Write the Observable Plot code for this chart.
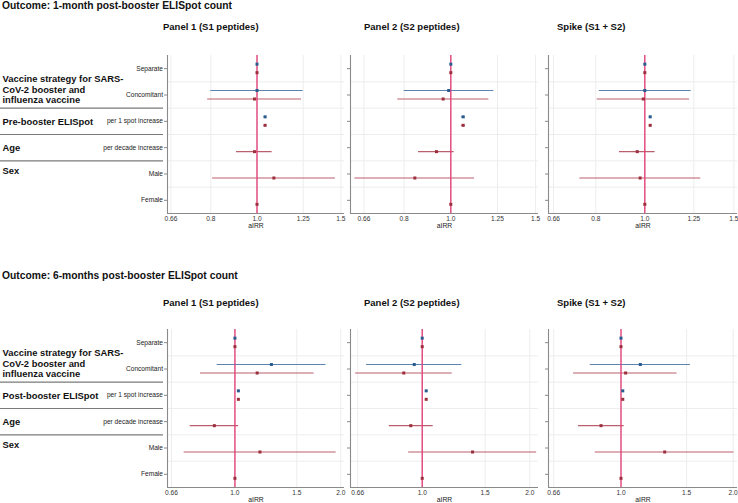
<!DOCTYPE html>
<html>
<head>
<meta charset="utf-8">
<script src="https://cdn.jsdelivr.net/npm/d3@7"></script>
<script src="https://cdn.jsdelivr.net/npm/@observablehq/plot@0.6"></script>
<style>
  body { margin: 0; background: #fff; }
  #root { position: relative; width: 738px; height: 503px; overflow: hidden; font-family: "Liberation Sans", Arial, Helvetica, sans-serif; }
  .t { position: absolute; font-weight: bold; font-size: 9.5px; line-height: 10px; color: #111; white-space: nowrap; }
  .t.big { font-size: 10.3px; line-height: 11px; }
  .p { position: absolute; }
</style>
</head>
<body>
<div id="root"></div>
<script>
// ---------- categories & labels ----------
const categories = ["Separate", "Concomitant", "per 1 spot increase", "per decade increase", "Male", "Female"];
const groupLabelsTop = ["Vaccine strategy for SARS-\nCoV-2 booster and\ninfluenza vaccine", "Pre-booster ELISpot", "Age", "Sex"];
const groupLabelsBottom = ["Vaccine strategy for SARS-\nCoV-2 booster and\ninfluenza vaccine", "Post-booster ELISpot", "Age", "Sex"];
const groupRows = [0.78, 2, 3, 3.87];
const separatorRows = [1.5, 2.5, 3.5];
const panelTitles = ["Panel 1 (S1 peptides)", "Panel 2 (S2 peptides)", "Spike (S1 + S2)"];
const sectionTitles = ["Outcome: 1-month post-booster ELISpot count", "Outcome: 6-months post-booster ELISpot count"];
const xTicksTop = [0.66, 0.8, 1.0, 1.25, 1.5];
const xTickLabelsTop = ["0.66", "0.8", "1.0", "1.25", "1.5"];
const xTicksBottom = [0.66, 1.0, 1.5, 2.0];
const xTickLabelsBottom = ["0.66", "1.0", "1.5", "2.0"];
const xDomainsTop = [[0.649, 1.526], [0.619, 1.521], [0.645, 1.525]];
const xDomainsBottom = [[0.643, 2.05], [0.630, 2.115], [0.639, 2.054]];

// ---------- 1-month outcome (aIRR, lower CI, upper CI) ----------
const m1p1BlueEst = [1, 1.00, 1.040, null, null, null];
const m1p1BlueLo  = [null, 0.80, 1.034, null, null, null];
const m1p1BlueHi  = [null, 1.25, 1.047, null, null, null];
const m1p1RedEst  = [1, 0.988, 1.040, 0.988, 1.085, 1];
const m1p1RedLo   = [null, 0.788, 1.034, 0.906, 0.807, null];
const m1p1RedHi   = [null, 1.24, 1.047, 1.076, 1.46, null];

const m1p2BlueEst = [1, 0.99, 1.061, null, null, null];
const m1p2BlueLo  = [null, 0.80, 1.052, null, null, null];
const m1p2BlueHi  = [null, 1.228, 1.070, null, null, null];
const m1p2RedEst  = [1, 0.964, 1.061, 0.934, 0.842, 1];
const m1p2RedLo   = [null, 0.776, 1.052, 0.857, 0.632, null];
const m1p2RedHi   = [null, 1.20, 1.070, 1.016, 1.12, null];

const m1p3BlueEst = [1, 1.00, 1.025, null, null, null];
const m1p3BlueLo  = [null, 0.813, 1.020, null, null, null];
const m1p3BlueHi  = [null, 1.235, 1.030, null, null, null];
const m1p3RedEst  = [1, 0.993, 1.025, 0.966, 0.979, 1];
const m1p3RedLo   = [null, 0.805, 1.020, 0.891, 0.744, null];
const m1p3RedHi   = [null, 1.226, 1.030, 1.048, 1.29, null];

// ---------- 6-months outcome ----------
const m6p1BlueEst = [1, 1.27, 1.023, null, null, null];
const m6p1BlueLo  = [null, 0.89, 1.019, null, null, null];
const m6p1BlueHi  = [null, 1.815, 1.027, null, null, null];
const m6p1RedEst  = [1, 1.157, 1.023, 0.874, 1.178, 1];
const m6p1RedLo   = [null, 0.798, 1.019, 0.746, 0.717, null];
const m6p1RedHi   = [null, 1.68, 1.027, 1.025, 1.94, null];

const m6p2BlueEst = [1, 0.95, 1.026, null, null, null];
const m6p2BlueLo  = [null, 0.699, 1.022, null, null, null];
const m6p2BlueHi  = [null, 1.29, 1.030, null, null, null];
const m6p2RedEst  = [1, 0.888, 1.026, 0.929, 1.383, 1];
const m6p2RedLo   = [null, 0.651, 1.022, 0.809, 0.916, null];
const m6p2RedHi   = [null, 1.213, 1.030, 1.073, 2.09, null];

const m6p3BlueEst = [1, 1.127, 1.011, null, null, null];
const m6p3BlueLo  = [null, 0.827, 1.008, null, null, null];
const m6p3BlueHi  = [null, 1.535, 1.014, null, null, null];
const m6p3RedEst  = [1, 1.029, 1.011, 0.884, 1.31, 1];
const m6p3RedLo   = [null, 0.746, 1.008, 0.769, 0.853, null];
const m6p3RedHi   = [null, 1.414, 1.014, 1.02, 2.01, null];

// ---------- build rows ----------
function rows(est, lo, hi) {
  const out = [];
  est.forEach((e, i) => { if (e != null) out.push({i, est: e, lo: lo[i], hi: hi[i]}); });
  return out;
}
const sections = [
  {
    title: sectionTitles[0], titleTop: 0, panelTitleTop: 22, svgTop: 45,
    groups: groupLabelsTop, xTicks: xTicksTop, xLabels: xTickLabelsTop, domains: xDomainsTop,
    panels: [
      [rows(m1p1BlueEst, m1p1BlueLo, m1p1BlueHi), rows(m1p1RedEst, m1p1RedLo, m1p1RedHi)],
      [rows(m1p2BlueEst, m1p2BlueLo, m1p2BlueHi), rows(m1p2RedEst, m1p2RedLo, m1p2RedHi)],
      [rows(m1p3BlueEst, m1p3BlueLo, m1p3BlueHi), rows(m1p3RedEst, m1p3RedLo, m1p3RedHi)]
    ]
  },
  {
    title: sectionTitles[1], titleTop: 270, panelTitleTop: 297.5, svgTop: 319,
    groups: groupLabelsBottom, xTicks: xTicksBottom, xLabels: xTickLabelsBottom, domains: xDomainsBottom,
    panels: [
      [rows(m6p1BlueEst, m6p1BlueLo, m6p1BlueHi), rows(m6p1RedEst, m6p1RedLo, m6p1RedHi)],
      [rows(m6p2BlueEst, m6p2BlueLo, m6p2BlueHi), rows(m6p2RedEst, m6p2RedLo, m6p2RedHi)],
      [rows(m6p3BlueEst, m6p3BlueLo, m6p3BlueHi), rows(m6p3RedEst, m6p3RedLo, m6p3RedHi)]
    ]
  }
];

const geom = [
  {left: 0,   marginLeft: 167, frameW: 177, marginRight: 4, titleLeft: 163},
  {left: 340, marginLeft: 10,  frameW: 188, marginRight: 4, titleLeft: 364},
  {left: 538, marginLeft: 10,  frameW: 189, marginRight: 1, titleLeft: 557}
];

const BLUE_PT = "#2a5b8e", RED_PT = "#9b2f3d";
const BLUE_CI = "#5b83ad", RED_CI = "#bb5f6c";
const REF = "#e3437b", GRID = "#ededed", AXIS = "#8a8a8a";
const FRAME_H = 158, MT = 10, MB = 20;

const root = document.getElementById("root");
function addText(txt, left, top, cls) {
  const d = document.createElement("div");
  d.className = "t" + (cls ? " " + cls : ""); d.textContent = txt;
  d.style.left = left + "px"; d.style.top = top + "px";
  root.appendChild(d);
}

sections.forEach(sec => {
  addText(sec.title, 2, sec.titleTop, "big");
  sec.panels.forEach((series, k) => {
    const g = geom[k];
    addText(panelTitles[k], g.titleLeft, sec.panelTitleTop);
    const [blue, red] = series;
    const dom = sec.domains[k];
    const marks = [
      Plot.ruleX(sec.xTicks, {stroke: GRID, strokeWidth: 1}),
      Plot.ruleY(d3.range(0.5, categories.length - 1, 1), {stroke: GRID, strokeWidth: 1}),
      Plot.ruleX([dom[0]], {stroke: AXIS, strokeWidth: 1.1}),
      Plot.ruleY([categories.length - 0.5], {stroke: AXIS, strokeWidth: 1.1}),
      Plot.axisY({ticks: d3.range(categories.length), tickSize: 3, tickPadding: 1.5,
        tickFormat: k === 0 ? (i => categories[i]) : (() => ""), stroke: AXIS, fill: "#222", label: null}),
      Plot.axisX({ticks: sec.xTicks, tickFormat: d => sec.xLabels[sec.xTicks.indexOf(d)], tickSize: 0, tickPadding: 3, fill: "#333", label: null}),
      Plot.text(["aIRR"], {frameAnchor: "bottom", dy: 14, fill: "#222", fontSize: 6.8}),
      Plot.ruleY(blue, {y: "i", x1: "lo", x2: "hi", stroke: BLUE_CI, strokeWidth: 1.1, dy: -4.5}),
      Plot.ruleY(red, {y: "i", x1: "lo", x2: "hi", stroke: RED_CI, strokeWidth: 1.1, dy: 4}),
      Plot.ruleX([1], {stroke: REF, strokeWidth: 1.4}),
      Plot.dot(blue, {y: "i", x: "est", symbol: "square", r: 1.7, fill: BLUE_PT, stroke: null, dy: -4.5}),
      Plot.dot(red, {y: "i", x: "est", symbol: "square", r: 1.7, fill: RED_PT, stroke: null, dy: 4})
    ];
    if (k === 0) {
      marks.push(
        Plot.ruleY(separatorRows, {stroke: "#7a7a7a", strokeWidth: 1.1, insetLeft: -g.marginLeft, insetRight: g.frameW + 4}),
        Plot.text(sec.groups.map((label, j) => ({label, row: groupRows[j]})), {
          text: "label", y: "row", frameAnchor: "left", dx: -165, textAnchor: "start",
          fontWeight: "bold", fontSize: 9.4, lineHeight: 1.13, fill: "#111"
        })
      );
    }
    const chart = Plot.plot({
      width: g.marginLeft + g.frameW + g.marginRight,
      height: MT + FRAME_H + MB,
      marginTop: MT, marginBottom: MB, marginLeft: g.marginLeft, marginRight: g.marginRight,
      style: {fontSize: "6.6px", fontFamily: "'Liberation Sans', Arial, Helvetica, sans-serif", background: "transparent", overflow: "visible"},
      x: {type: "log", domain: dom},
      y: {type: "linear", domain: [-0.5, categories.length - 0.5], reverse: true},
      marks
    });
    chart.classList.add("p");
    chart.style.left = g.left + "px";
    chart.style.top = sec.svgTop + "px";
    root.appendChild(chart);
  });
});
</script>
</body>
</html>
